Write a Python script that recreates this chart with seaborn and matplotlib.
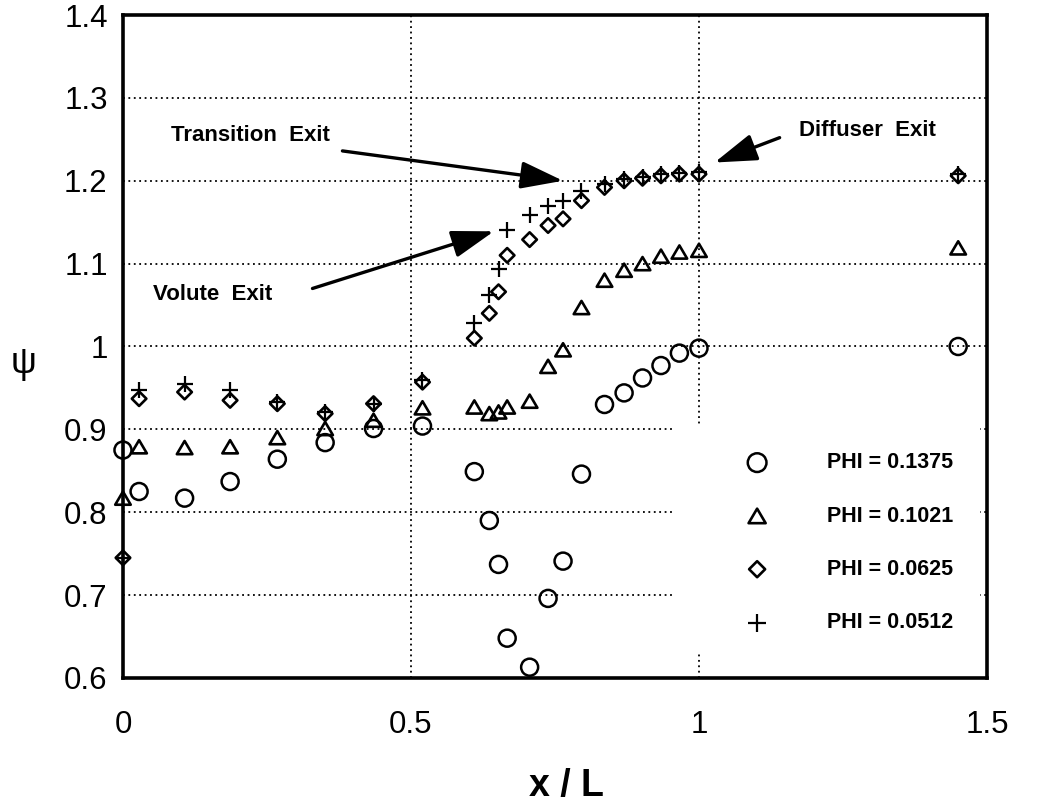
import matplotlib
matplotlib.use("Agg")
import matplotlib.pyplot as plt
import pandas as pd
import seaborn as sns
from matplotlib.path import Path
from matplotlib.patches import Rectangle

# Measurement stations along the flow path (x / L)
x_stations = [0.0, 0.028, 0.107, 0.186, 0.268, 0.351, 0.435, 0.520, 0.610,
              0.636, 0.652, 0.667, 0.706, 0.738, 0.764, 0.796, 0.836, 0.870,
              0.902, 0.934, 0.966, 1.000, 1.450]

# Pressure coefficient psi for each flow coefficient
psi_phi_1375 = [0.875, 0.825, 0.817, 0.837, 0.864, 0.884, 0.901, 0.904, 0.849,
                0.790, 0.737, 0.648, 0.613, 0.696, 0.741, 0.846, 0.930, 0.944,
                0.962, 0.977, 0.992, 0.998, 1.000]
psi_phi_1021 = [0.817, 0.879, 0.878, 0.879, 0.890, 0.901, 0.911, 0.926, 0.927,
                0.919, 0.921, 0.927, 0.934, 0.976, 0.996, 1.047, 1.080, 1.092,
                1.100, 1.109, 1.114, 1.116, 1.119]
psi_phi_0625 = [0.745, 0.937, 0.945, 0.935, 0.931, 0.919, 0.931, 0.957, 1.010,
                1.040, 1.066, 1.110, 1.129, 1.146, 1.154, 1.176, 1.192, 1.200,
                1.203, 1.206, 1.208, 1.208, 1.206]
psi_phi_0512 = [0.745, 0.947, 0.955, 0.947, 0.933, 0.921, 0.931, 0.959, 1.028,
                1.062, 1.093, 1.140, 1.159, 1.170, 1.176, 1.188, 1.196, 1.202,
                1.205, 1.208, 1.209, 1.210, 1.208]

series_labels = ["PHI = 0.1375", "PHI = 0.1021", "PHI = 0.0625", "PHI = 0.0512"]

x_ticks = [0, 0.5, 1.0, 1.5]
x_tick_labels = ["0", "0.5", "1", "1.5"]
y_ticks = [0.6, 0.7, 0.8, 0.9, 1.0, 1.1, 1.2, 1.3, 1.4]
y_tick_labels = ["0.6", "0.7", "0.8", "0.9", "1", "1.1", "1.2", "1.3", "1.4"]

# Callouts: (text, text centre, arrow tail, arrow head)
callouts = [
    ("Transition  Exit", (0.222, 1.254), (0.381, 1.236), (0.764, 1.200)),
    ("Volute  Exit", (0.155, 1.063), (0.329, 1.070), (0.644, 1.139)),
    ("Diffuser  Exit", (1.293, 1.261), (1.140, 1.252), (1.027, 1.222)),
]

frames = []
for lab, vals in zip(series_labels,
                     [psi_phi_1375, psi_phi_1021, psi_phi_0625, psi_phi_0512]):
    frames.append(pd.DataFrame({"x": x_stations, "psi": vals, "series": lab}))
df = pd.concat(frames, ignore_index=True)

sns.set_theme(style="white")
plt.rcParams["font.family"] = ["Liberation Sans", "DejaVu Sans"]

fig = plt.figure(figsize=(10.43, 8.07), dpi=100)
ax = fig.add_axes([0.1179, 0.1599, 0.9463 - 0.1179, 0.9814 - 0.1599])

triangle = Path([(0, 0.85), (-1, -0.85), (1, -0.85), (0, 0.85)], closed=True)
styles = {
    "PHI = 0.1375": dict(marker="o", s=150, facecolor="none", edgecolor="black", linewidths=1.8),
    "PHI = 0.1021": dict(marker=triangle, s=125, facecolor="none", edgecolor="black", linewidths=1.9),
    "PHI = 0.0625": dict(marker="D", s=55, facecolor="none", edgecolor="black", linewidths=1.9),
    "PHI = 0.0512": dict(marker="+", s=130, linewidths=1.6),
}

for lab in series_labels:
    sub = df[df["series"] == lab]
    sns.scatterplot(data=sub, x="x", y="psi", ax=ax, color="black",
                    label=lab, zorder=3, clip_on=False, **styles[lab])

ax.set_xlim(0, 1.5)
ax.set_ylim(0.6, 1.4)
ax.set_xticks(x_ticks)
ax.set_xticklabels(x_tick_labels)
ax.set_yticks(y_ticks)
ax.set_yticklabels(y_tick_labels)
ax.tick_params(axis="both", length=0, labelsize=22.5, colors="black")
ax.tick_params(axis="y", pad=11)
ax.tick_params(axis="x", pad=23)

ax.set_axisbelow(True)
ax.grid(True, color="black", linestyle=(0, (1, 2)), linewidth=1.3)
for sp in ax.spines.values():
    sp.set_color("black")
    sp.set_linewidth(2.6)
    sp.set_zorder(5)

# White panel behind the legend
ax.add_patch(Rectangle((0.637, 0.039), 0.355, 0.34, transform=ax.transAxes,
                       facecolor="white", edgecolor="none", zorder=1))

ax.set_xlabel("x / L", fontsize=27, fontweight="bold", color="black")
ax.xaxis.set_label_coords(0.513, -0.163)
ax.xaxis.label.set_va("center")
ax.set_ylabel("ψ", fontsize=26, rotation=0, color="black")
ax.yaxis.set_label_coords(-0.115, 0.475)
ax.yaxis.label.set_va("center")
ax.yaxis.label.set_ha("center")

for text, tpos, tail, head in callouts:
    ax.text(tpos[0], tpos[1], text, fontsize=16, fontweight="bold",
            ha="center", va="center", color="black", zorder=4)
    ax.annotate("", xy=head, xytext=tail,
                arrowprops=dict(arrowstyle="-|>,head_length=1.3,head_width=0.42",
                                mutation_scale=20, lw=2.4, color="black",
                                shrinkA=0, shrinkB=0),
                zorder=4)

leg = ax.legend(loc="center left", bbox_to_anchor=(0.7215, 0.204),
                frameon=False, prop=dict(size=15.5, weight="bold"),
                handlelength=1.0, handletextpad=2.75, labelspacing=1.5,
                borderpad=0, borderaxespad=0, markerscale=1.1)
for t in leg.get_texts():
    t.set_color("black")

fig.savefig("out.png", dpi=100, facecolor="white")
